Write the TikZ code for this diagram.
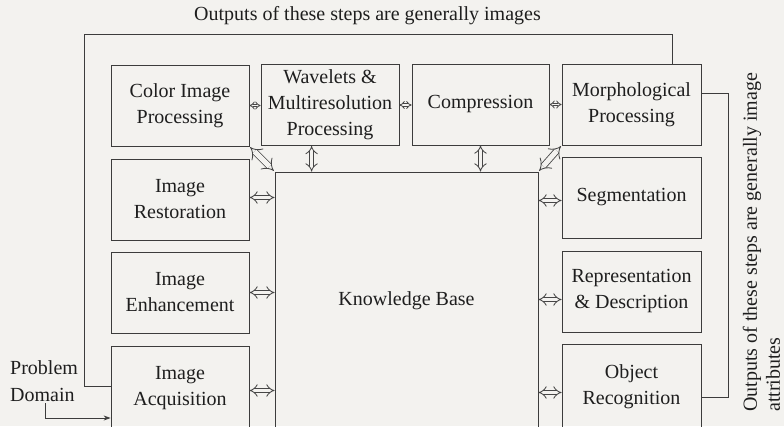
\documentclass[tikz,border=0pt]{standalone}
\usepackage{fontspec}
\setmainfont{Liberation Serif}
\usetikzlibrary{arrows.meta,calc}
\definecolor{bg}{RGB}{243,242,239}
\definecolor{ln}{RGB}{60,60,60}
\definecolor{tx}{RGB}{30,30,30}
\definecolor{ar}{RGB}{70,70,70}
\begin{document}
\begin{tikzpicture}[x=1pt,y=-1pt,
  box/.style={draw=ln, line width=0.8pt, text=tx, align=center,
    minimum width=138pt, minimum height=81pt, inner sep=1pt,
    font=\fontsize{20}{26}\selectfont},
  dbl/.style={draw=ar, double=bg, double distance=#1, line width=0.85pt,
    {Implies}-{Implies}},
  dbl/.default=3.5pt,
  sdbl/.style={draw=ar, double=bg, double distance=1.8pt, line width=0.85pt,
    {Implies[length=2.5pt,width=6.5pt]}-{Implies[length=2.5pt,width=6.5pt]}},
  conn/.style={draw=ln, line width=0.8pt},
  lbl/.style={text=tx, inner sep=0pt}]
\fill[bg] (0,0) rectangle (784,426);
\path[use as bounding box, clip] (0,0) rectangle (784,426);

% boxes
\node[box] (color) at (180,105.5) {Color Image\\Processing};
\node[box] (wave) at (330,105) {Wavelets \&\\Multiresolution\\Processing};
\node[box, minimum width=137pt] (comp) at (480.5,104.5) {Compression};
\node[box, minimum width=139pt] (morph) at (631.5,104.5) {Morphological\\Processing};
\node[box] (rest) at (180,199.5) {Image\\Restoration};
\node[box, minimum width=139pt] (seg) at (631.5,197.5) {Segmentation};
\node[box] (enh) at (180,292.5) {Image\\Enhancement};
\node[box, minimum width=139pt] (rep) at (631.5,291.5) {Representation\\\& Description};
\node[box, minimum height=84pt] (acq) at (180,388) {Image\\Acquisition};
\node[box, minimum width=139pt, minimum height=86pt] (obj) at (631.5,387) {Object\\Recognition};
\node[box, minimum width=263pt, minimum height=258pt] (kb) at (406.5,301) {Knowledge Base};

% labels
\node[lbl, font=\fontsize{20}{22}\selectfont] (top) at (367.5,16) {Outputs of these steps are generally images};
\node[lbl, font=\fontsize{20}{23}\selectfont, rotate=90, anchor=west, align=left] (side) at (761.5,412)
  {Outputs of these steps are generally image\\attributes};
\node[lbl, font=\fontsize{20}{27}\selectfont, anchor=west, align=left] (pd) at (10,381.5) {Problem\\Domain};

% frame (outputs are images)
\coordinate (ftl) at (84,34);
\coordinate (ftr) at (672,34);
\coordinate (fb) at (84,386);
\draw[conn] (ftr |- morph.north) -- (ftr) -- (ftl) -- (fb) -- (fb -| acq.west);

% bracket (outputs are attributes)
\coordinate (m1) at ($(morph.east)+(0,-11)$);
\coordinate (o1) at ($(obj.east)+(0,10)$);
\coordinate (rb) at (728,0);
\draw[conn] (m1) -- (m1 -| rb) |- (o1);

% problem domain arrow
\coordinate (pa) at (45,403);
\coordinate (pb) at (0,418);
\draw[conn, -{Stealth[length=7pt,width=5pt]}] (pa) |- (pb -| acq.west);

% double arrows
\draw[sdbl] (color.east) -- (color.east -| wave.west);
\draw[sdbl] (wave.east) -- (wave.east -| comp.west);
\draw[sdbl] (comp.east) -- (comp.east -| morph.west);
\coordinate (w1) at ($(wave.south west)+(51,0)$);
\draw[dbl] (w1) -- (w1 |- kb.north);
\draw[dbl] (comp.south) -- (comp.south |- kb.north);
\draw[dbl=5pt, shorten <=1pt, shorten >=1pt] (color.south east) -- (kb.north west);
\draw[dbl=5pt, shorten <=1pt, shorten >=1pt] (morph.south west) -- (kb.north east);
\coordinate (r1) at ($(rest.east)+(0,-2)$);
\draw[dbl] (r1) -- (r1 -| kb.west);
\draw[dbl] (enh.east) -- (enh.east -| kb.west);
\coordinate (a1) at ($(acq.east)+(0,2.5)$);
\draw[dbl] (a1) -- (a1 -| kb.west);
\coordinate (s1) at ($(seg.west)+(0,3)$);
\draw[dbl] (s1) -- (s1 -| kb.east);
\coordinate (p1) at ($(rep.west)+(0,8)$);
\draw[dbl] (p1) -- (p1 -| kb.east);
\coordinate (q1) at ($(obj.west)+(0,5.5)$);
\draw[dbl] (q1) -- (q1 -| kb.east);
\end{tikzpicture}
\end{document}
